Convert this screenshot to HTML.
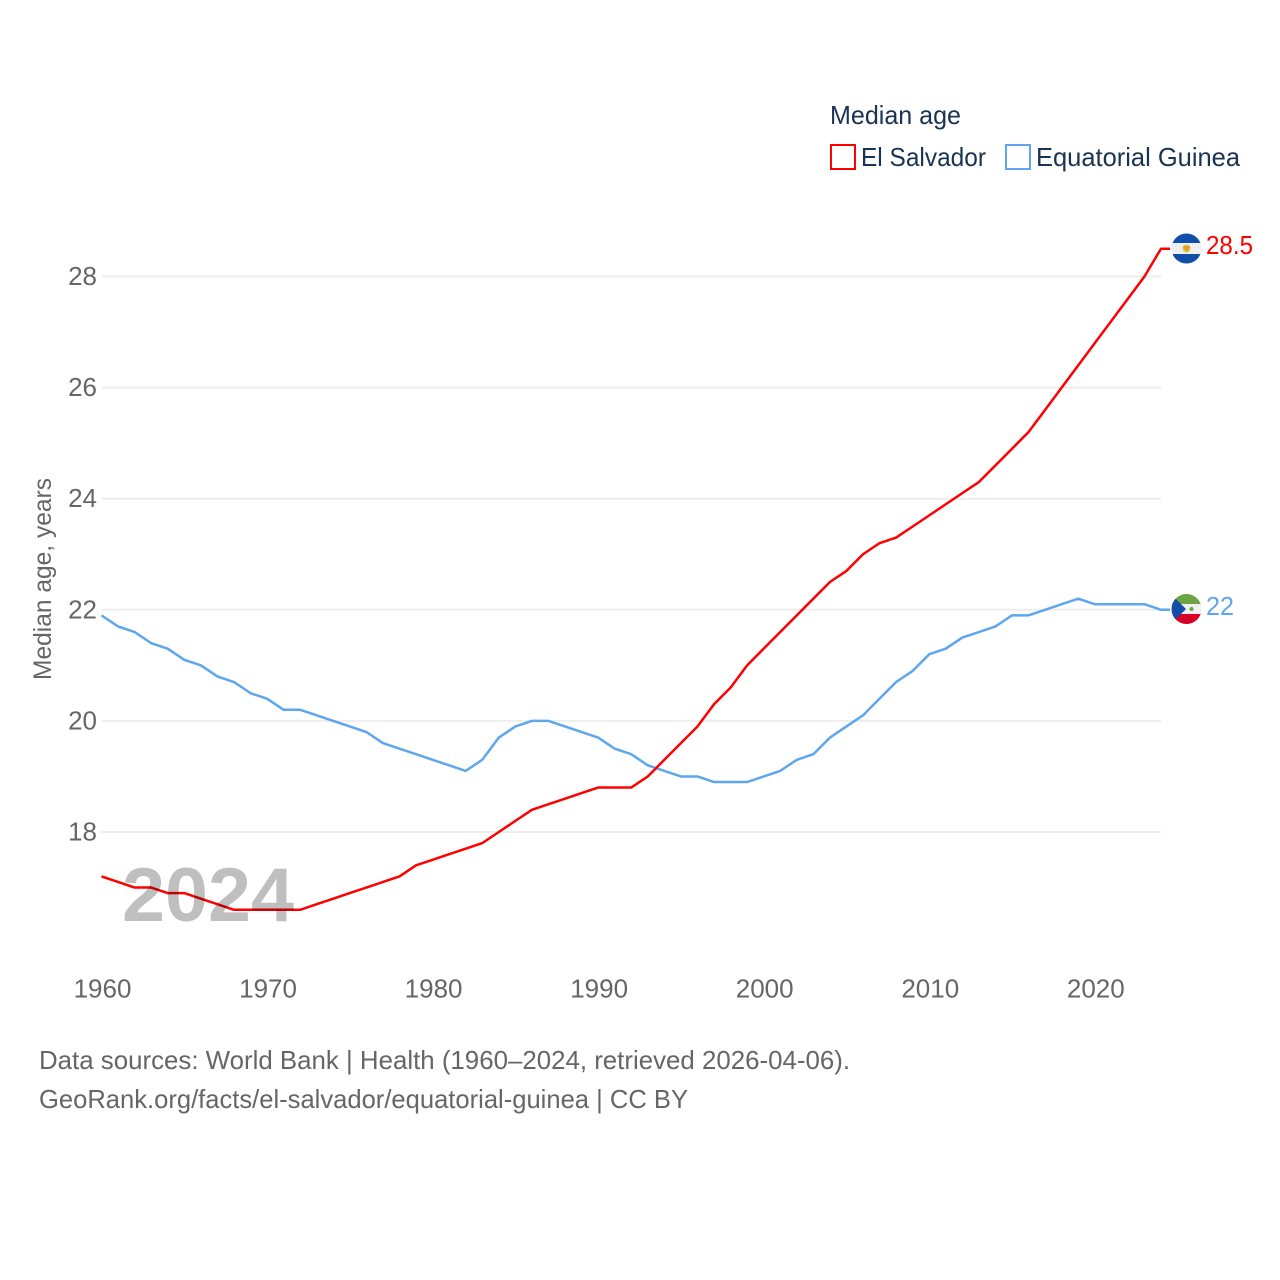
<!DOCTYPE html>
<html>
<head>
<meta charset="utf-8">
<title>Median age: El Salvador and Equatorial Guinea</title>
<style>
html,body{margin:0;padding:0;background:#fff;}
svg{display:block;}
text{font-family:"Liberation Sans",sans-serif;}
</style>
</head>
<body>
<svg id="chart" xmlns="http://www.w3.org/2000/svg" width="1280" height="1280" viewBox="0 0 1280 1280">
  <rect width="1280" height="1280" fill="#fff"/>
  <g id="grid"></g>
  <g id="yticks"></g>
  <g id="xticks"></g>
  <g id="series"></g>

  <text x="122" y="921" font-size="76" font-weight="700" fill="#000" fill-opacity="0.25" textLength="172" lengthAdjust="spacingAndGlyphs">2024</text>

  <text transform="translate(51,680) rotate(-90)" font-size="25" fill="#666" textLength="202" lengthAdjust="spacingAndGlyphs">Median age, years</text>

  <text x="830" y="124" font-size="26" fill="#1a3352" textLength="131" lengthAdjust="spacingAndGlyphs">Median age</text>
  <rect x="831" y="145" width="24" height="24" fill="#fff" stroke="#ff0000" stroke-width="2"/>
  <text x="861" y="166" font-size="26" fill="#1a3352" textLength="125" lengthAdjust="spacingAndGlyphs">El Salvador</text>
  <rect x="1006" y="145" width="24" height="24" fill="#fff" stroke="#5ea6ee" stroke-width="2"/>
  <text x="1036" y="166" font-size="26" fill="#1a3352" textLength="204" lengthAdjust="spacingAndGlyphs">Equatorial Guinea</text>

  <defs>
    <clipPath id="flag-clip-sv"><circle cx="1186.500" cy="248.500" r="15"/></clipPath>
    <clipPath id="flag-clip-gq"><circle cx="1186.500" cy="609" r="15"/></clipPath>
  </defs>
  <g id="flag-sv" clip-path="url(#flag-clip-sv)">
    <rect x="1171" y="233" width="31" height="31" fill="#f0f0f0"/>
    <rect x="1171" y="233" width="31" height="10" fill="#0f4fa8"/>
    <rect x="1171" y="254" width="31" height="10" fill="#0f4fa8"/>
    <circle cx="1186.500" cy="248.500" r="4" fill="#d8c65a"/>
    <path d="M1182.500 246h8l-4 6z" fill="#e8a020"/>
  </g>
  <g id="flag-gq" clip-path="url(#flag-clip-gq)">
    <rect x="1171" y="594" width="31" height="30" fill="#f0f0f0"/>
    <rect x="1171" y="594" width="31" height="10" fill="#6da544"/>
    <rect x="1171" y="614" width="31" height="10" fill="#d80027"/>
    <path d="M1171 594L1186 609L1171 624z" fill="#0f4fa8"/>
    <circle cx="1191.500" cy="609" r="2" fill="#6da544"/>
  </g>

  <text x="1206" y="254" font-size="26" fill="#ff0000" textLength="47" lengthAdjust="spacingAndGlyphs">28.5</text>
  <text x="1206" y="615" font-size="26" fill="#5ea6ee" textLength="28" lengthAdjust="spacingAndGlyphs">22</text>

  <text x="39" y="1069" font-size="26" fill="#666" textLength="811" lengthAdjust="spacingAndGlyphs">Data sources: World Bank | Health (1960–2024, retrieved 2026-04-06).</text>
  <text x="39" y="1108" font-size="26" fill="#666" textLength="649" lengthAdjust="spacingAndGlyphs">GeoRank.org/facts/el-salvador/equatorial-guinea | CC BY</text>
</svg>
<script>
const startYear = 1960;
const yTickValues = [18, 20, 22, 24, 26, 28];
const xTickValues = [1960, 1970, 1980, 1990, 2000, 2010, 2020];
const elSalvador = [17.2,17.1,17.0,17.0,16.9,16.9,16.8,16.7,16.6,16.6,16.6,16.6,16.6,16.7,16.8,16.9,17.0,17.1,17.2,17.4,17.5,17.6,17.7,17.8,18.0,18.2,18.4,18.5,18.6,18.7,18.8,18.8,18.8,19.0,19.3,19.6,19.9,20.3,20.6,21.0,21.3,21.6,21.9,22.2,22.5,22.7,23.0,23.2,23.3,23.5,23.7,23.9,24.1,24.3,24.6,24.9,25.2,25.6,26.0,26.4,26.8,27.2,27.6,28.0,28.5];
const equatorialGuinea = [21.9,21.7,21.6,21.4,21.3,21.1,21.0,20.8,20.7,20.5,20.4,20.2,20.2,20.1,20.0,19.9,19.8,19.6,19.5,19.4,19.3,19.2,19.1,19.3,19.7,19.9,20.0,20.0,19.9,19.8,19.7,19.5,19.4,19.2,19.1,19.0,19.0,18.9,18.9,18.9,19.0,19.1,19.3,19.4,19.7,19.9,20.1,20.4,20.7,20.9,21.2,21.3,21.5,21.6,21.7,21.9,21.9,22.0,22.1,22.2,22.1,22.1,22.1,22.1,22.0];

const NS = 'http://www.w3.org/2000/svg';
function xScale(year) { return 101.5 + (year - 1960) * (1161 - 101.5) / 64; }
function yScale(value) { return 832 - (value - 18) * (832 - 276.5) / 10; }
function make(tag, attrs) {
  const el = document.createElementNS(NS, tag);
  for (const k in attrs) el.setAttribute(k, attrs[k]);
  return el;
}
const gridG = document.getElementById('grid');
const yG = document.getElementById('yticks');
const xG = document.getElementById('xticks');
const seriesG = document.getElementById('series');

yTickValues.forEach(function (v) {
  const line = make('line', {x1: 101.5, x2: 1161, y1: yScale(v), y2: yScale(v), stroke: '#eeeeee', 'stroke-width': 2});
  
  
  gridG.appendChild(line);
  const t = make('text', {x: 97, y: yScale(v) + 8.5, 'text-anchor': 'end', 'font-size': 26, fill: '#666'});
  
  
  t.textContent = v;
  yG.appendChild(t);
});

xTickValues.forEach(function (y) {
  const t = make('text', {x: xScale(y) + 1, y: 997.5, 'text-anchor': 'middle', 'font-size': 26, fill: '#666'});
  
  
  t.textContent = y;
  xG.appendChild(t);
});

function drawSeries(values, color, name) {
  const pts = values.map(function (v, i) { return xScale(startYear + i).toFixed(2) + ',' + yScale(v).toFixed(2); });
  const last = values[values.length - 1];
  pts.push('1170,' + yScale(last).toFixed(2));
  const p = make('polyline', {points: pts.join(' '), fill: 'none', stroke: color, 'stroke-width': 2.5, 'stroke-linejoin': 'round'});
  
  
  seriesG.appendChild(p);
}
drawSeries(equatorialGuinea, '#5ea6ee', 'line-equatorial-guinea');
drawSeries(elSalvador, '#ff0000', 'line-el-salvador');
</script>
</body>
</html>
